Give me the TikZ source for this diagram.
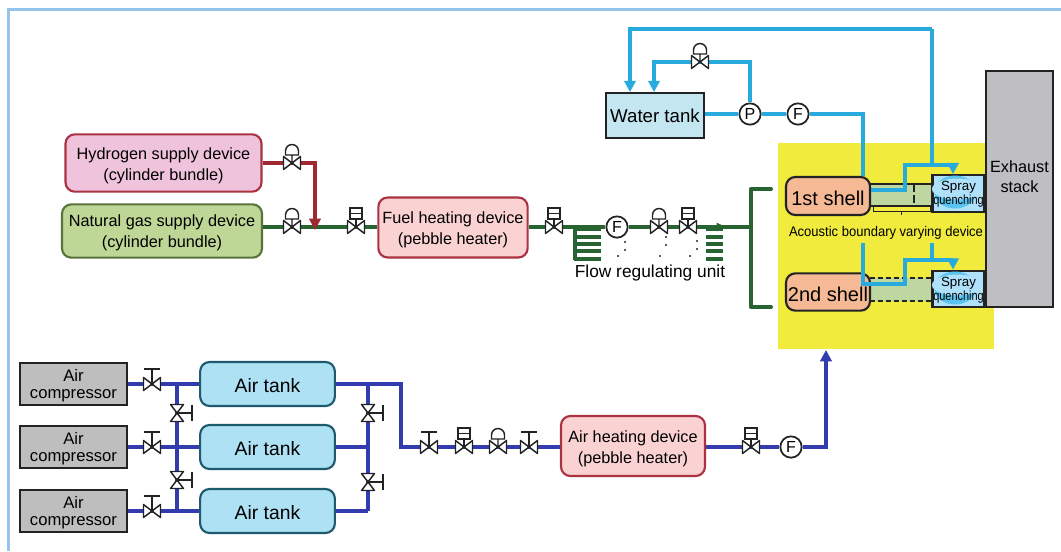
\documentclass[tikz,border=0pt]{standalone}
\usepackage{fontspec}
\setmainfont{Liberation Sans}
\usetikzlibrary{arrows.meta}
\definecolor{frameblue}{RGB}{150,195,235}
\definecolor{waterpipe}{RGB}{40,170,220}
\definecolor{airpipe}{RGB}{50,60,175}
\definecolor{fuelpipe}{RGB}{40,100,50}
\definecolor{hydrogenpipe}{RGB}{160,40,50}
\definecolor{hydrogenfill}{RGB}{240,195,220}
\definecolor{gasfill}{RGB}{190,215,150}
\definecolor{gasedge}{RGB}{90,115,60}
\definecolor{heaterfill}{RGB}{250,210,210}
\definecolor{heateredge}{RGB}{170,50,65}
\definecolor{tankfill}{RGB}{175,225,245}
\definecolor{tankedge}{RGB}{30,90,110}
\definecolor{waterfill}{RGB}{195,230,240}
\definecolor{compressorfill}{RGB}{190,190,190}
\definecolor{stackfill}{RGB}{190,190,195}
\definecolor{zonefill}{RGB}{240,235,60}
\definecolor{shellfill}{RGB}{245,185,150}
\definecolor{ductfill}{RGB}{190,215,160}
\definecolor{sprayfill}{RGB}{175,225,250}
\definecolor{sprayjet}{RGB}{90,195,240}
\definecolor{darkline}{RGB}{35,35,35}
\tikzstyle{devicebox} = [rounded corners=7pt, line width=1.6pt, align=center, inner sep=0pt, font=\fontsize{12.2}{16}\selectfont]
\tikzstyle{hydrogenbox} = [devicebox, draw=heateredge, fill=hydrogenfill]
\tikzstyle{gasbox} = [devicebox, draw=gasedge, fill=gasfill]
\tikzstyle{heaterbox} = [devicebox, draw=heateredge, fill=heaterfill]
\tikzstyle{tankbox} = [devicebox, draw=tankedge, fill=tankfill, font=\fontsize{14.5}{16}\selectfont]
\tikzstyle{shellbox} = [devicebox, draw=darkline, fill=shellfill, font=\fontsize{15}{16}\selectfont]
\tikzstyle{compressorbox} = [draw=darkline, fill=compressorfill, line width=1.6pt, align=center, inner sep=0pt, font=\fontsize{12.5}{13}\selectfont]
\tikzstyle{waterbox} = [draw=darkline, fill=waterfill, line width=1.6pt, align=center, inner sep=0pt, font=\fontsize{14}{16}\selectfont]
\tikzstyle{spraybox} = [draw=darkline, line width=1.6pt, minimum width=39pt, minimum height=27.5pt, inner sep=0pt]
\tikzstyle{meter} = [circle, draw=darkline, fill=white, line width=1.3pt, minimum size=16pt, inner sep=0pt, font=\fontsize{12}{12}\selectfont]
\tikzstyle{water} = [draw=waterpipe, line width=2.6pt]
\tikzstyle{air} = [draw=airpipe, line width=2.4pt]
\tikzstyle{fuel} = [draw=fuelpipe, line width=2.4pt]
\tikzstyle{tip} = [-{Triangle[length=8.5pt,width=8.5pt]}]
\newcommand{\lift}[1]{\rule{0pt}{#1}}
\newcommand{\valvecross}{\draw[darkline, line width=1.1pt, fill=white, line join=round]
      (-8.5,-6.5) -- (8.5,6.5) -- (8.5,-6.5) -- (-8.5,6.5) -- cycle;}
\tikzset{
  handvalve/.pic={
    \draw[darkline, line width=1.1pt] (0,0) -- (0,-15) (-8,-15) -- (8,-15);
    \valvecross
  },
  boxvalve/.pic={
    \draw[darkline, line width=1.1pt, fill=white] (0,0) -- (0,-8) (-6,-8) rectangle (6,-19) (-6,-13.5) -- (6,-13.5);
    \valvecross
  },
  domevalve/.pic={
    \draw[darkline, line width=1.1pt, fill=white] (0,0) -- (0,-8) (-6.5,-8) -- (6.5,-8) -- (6.5,-12) arc[start angle=0, end angle=180, x radius=6.5, y radius=-6.5] -- cycle;
    \valvecross
  },
}
\begin{document}
\begin{tikzpicture}[x=0.75pt, y=-0.75pt]
    \useasboundingbox (0,0) rectangle (1061,551);
    \draw[frameblue, line width=2.2pt] (1061,9.5) -- (8.5,9.5) -- (8.5,551);

    % burner zone and stack
    \fill[zonefill] (778,143) rectangle (994,349);
    \node[draw=darkline, fill=stackfill, line width=1.6pt, minimum width=50.5pt, minimum height=177pt, inner sep=0pt] (stack) at (1019.5,189) {};
    \node[anchor=north, align=center, font=\fontsize{12.2}{15}\selectfont, inner sep=0pt] (stacklabel) at (1019.5,160) {Exhaust\\stack};

    % ducts
    \fill[ductfill] (870,183) rectangle (932,206);
    \fill[ductfill] (870,278) rectangle (932,301);
    \coordinate (ducta) at (870,184);
    \coordinate (ductb) at (932,184);
    \coordinate (ductc) at (870,206);
    \coordinate (ductd) at (932,206);
    \draw[darkline, line width=1.6pt] (ducta) -- (ductb);
    \draw[darkline, line width=1.6pt] (ductc) -- (ductd);
    \coordinate (ducte) at (870,278);
    \coordinate (ductf) at (932,278);
    \coordinate (ductg) at (870,301);
    \coordinate (ducth) at (932,301);
    \draw[darkline, line width=1.6pt, dash pattern=on 4pt off 2pt] (ducte) -- (ductf);
    \draw[darkline, line width=1.6pt, dash pattern=on 4pt off 2pt] (ductg) -- (ducth);
    \coordinate (movea) at (914,184);
    \coordinate (moveb) at (914,206);
    \draw[darkline, line width=2.2pt, dash pattern=on 6pt off 2.5pt] (movea) -- (moveb);
    \draw[darkline, line width=0.4pt] (873,207) -- (873,211) -- (930,211) -- (930,207) (901,211) -- (901,215);

    % shells
    \node[shellbox, minimum width=63pt, minimum height=28.5pt] (shella) at (828,196) {\lift{14pt}1st shell};
    \node[shellbox, minimum width=63pt, minimum height=28pt] (shellb) at (828,292) {\lift{14pt}2nd shell};
    \node[spraybox, fill=sprayfill] (spraya) at (958.5,193.5) {};
    \node[spraybox, fill=sprayfill] (sprayb) at (958.5,289) {};
    \foreach \y in {192,288}{
        \fill[sprayjet] (955,\y) ellipse [x radius=21, y radius=16.5];
        \fill[sprayfill] (957,\y-3) ellipse [x radius=25, y radius=10.5];
    }
    \node[align=center, inner sep=0pt, font=\fontsize{10}{11}\selectfont] (spraylabela) at (958.5,194.5) {Spray\\[-0.5pt]\scalebox{0.82}[1]{quenching}};
    \node[align=center, inner sep=0pt, font=\fontsize{10}{11}\selectfont] (spraylabelb) at (958.5,290) {Spray\\[-0.5pt]\scalebox{0.82}[1]{quenching}};
    \node[inner sep=0pt, font=\fontsize{10.5}{12}\selectfont] (acoustic) at (886,233) {\scalebox{0.93}[1]{Acoustic boundary varying device}};

    % water side
    \node[waterbox, minimum width=73.5pt, minimum height=33.5pt] (watertank) at (655,115.5) {Water tank};
    \node[meter] (pumpw) at (750,114) {P};
    \node[meter] (flowm) at (798,114) {F};
    \coordinate (wa) at (630,29);
    \coordinate (wb) at (932,29);
    \coordinate (wc) at (932,165);
    \coordinate (wd) at (905,165);
    \coordinate (we) at (905,190);
    \coordinate (wf) at (953,165);
    \coordinate (wg) at (863,114);
    \coordinate (wh) at (863,243);
    \coordinate (wi) at (863,284);
    \coordinate (wj) at (905,284);
    \coordinate (wk) at (905,260);
    \coordinate (wl) at (953,260);
    \coordinate (wm) at (932,243);
    \coordinate (wn) at (932,260);
    \coordinate (wo) at (750,62);
    \coordinate (wp) at (654,62);
    \draw[water, tip] (wb) -- (wa) -- (wa |- watertank.north);
    \draw[water, tip] (pumpw) -- (wo) -- (wp) -- (wp |- watertank.north);
    \draw[water] (watertank.east |- pumpw) -- (pumpw);
    \draw[water] (pumpw) -- (flowm);
    \draw[water] (flowm) -- (wg) -- (wg |- shella.north);
    \draw[water] (wb) -- (wc);
    \draw[water] (we -| shella.east) -- (we) -- (wd) -- (wf);
    \draw[water, tip] (wf) -- (wf |- spraya.north);
    \draw[water] (wh) -- (wi) -- (wj) -- (wk) -- (wl);
    \draw[water] (wm) -- (wn);
    \draw[water, tip] (wl) -- (wl |- sprayb.north);
    \pic at (700,62) {domevalve};

    % fuel side
    \node[hydrogenbox, minimum width=147pt, minimum height=43pt] (hydrogen) at (163.5,163) {\lift{13.5pt}Hydrogen supply device\\(cylinder bundle)};
    \node[gasbox, minimum width=150pt, minimum height=40pt] (naturalgas) at (162,231) {\lift{12pt}Natural gas supply device\\(cylinder bundle)};
    \node[heaterbox, minimum width=112pt, minimum height=45pt] (fuelheater) at (453,227.5) {\lift{12pt}Fuel heating device\\(pebble heater)};
    \node[meter] (flowf) at (617,227) {F};
    \coordinate (ha) at (315,163);
    \coordinate (hb) at (315,230);
    \coordinate (fa) at (751,227);
    \coordinate (fb) at (751,189);
    \coordinate (fc) at (771,189);
    \coordinate (fd) at (751,307);
    \coordinate (fe) at (771,307);
    \draw[fuel] (naturalgas.east |- flowf) -- (fuelheater.west |- flowf);
    \draw[fuel] (fuelheater.east |- flowf) -- (flowf);
    \draw[fuel] (flowf) -- (fa);
    \draw[fuelpipe, -{Triangle[length=7pt,width=6pt]}, line width=2.4pt] (flowf) -- (726,227);
    \draw[fuelpipe, line width=3pt, line cap=round, line join=round] (fc) -- (fb) -- (fd) -- (fe);
    \draw[hydrogenpipe, line width=2.4pt, tip] (hydrogen) -- (ha) -- (hb);
    \pic at (292,163) {domevalve};
    \pic at (292,227) {domevalve};
    \pic at (356,227) {boxvalve};
    \pic at (554,227) {boxvalve};
    \pic at (659,227) {domevalve};
    \pic at (688,227) {boxvalve};
    % ladders under the fuel line
    \foreach \y in {229,237,244,251,259}{
        \draw[fuelpipe, line width=2.3pt] (574,\y) -- (601,\y);
        \draw[fuelpipe, line width=2.3pt] (706,\y) -- (723,\y);
    }
    \draw[fuelpipe, line width=2.3pt] (575,227) -- (575,260);
    % dotted leaders
    \foreach \x/\y in {625/242,625/250,618/256,666/237,666/245,660/256,697/241,697/249,690/256}{
        \fill[darkline] (\x,\y) circle (0.9pt);
    }
    \node[inner sep=0pt, font=\fontsize{13}{15}\selectfont] (flowunit) at (650,273) {Flow regulating unit};

    % air side
    \foreach \n/\y in {a/384, b/447, c/511}{
        \node[compressorbox, minimum width=80pt, minimum height=32pt] (comp\n) at (73.5,\y) {\lift{12pt}Air\\compressor};
        \node[tankbox, minimum width=101pt, minimum height=33pt] (tank\n) at (267.5,\y) {\lift{13.5pt}Air tank};
        \draw[air] (comp\n) -- (tank\n);
        \pic at (152,\y) {handvalve};
    }
    \coordinate (la) at (177,384);
    \coordinate (lb) at (177,511);
    \coordinate (ra) at (368,384);
    \coordinate (rb) at (368,511);
    \coordinate (rc) at (401,384);
    \coordinate (rd) at (401,447);
    \coordinate (ua) at (826,447);
    \coordinate (ub) at (826,350);
    \node[heaterbox, minimum width=108pt, minimum height=45pt] (airheater) at (633,446) {\lift{13pt}Air heating device\\(pebble heater)};
    \node[meter] (flowa) at (791,447) {F};
    \draw[air] (la) -- (lb);
    \draw[air] (ra) -- (rb);
    \draw[air] (tanka) -- (rc) -- (rd) -- (airheater.west |- rd);
    \draw[air] (tankb) -- (ra |- tankb);
    \draw[air] (tankc) -- (rb);
    \draw[air] (airheater.east |- ua) -- (flowa);
    \draw[air, tip] (flowa) -- (ua) -- (ub);
    \foreach \x/\y in {177/413,177/480,368/413,368/482}{
        \pic[rotate=-90] at (\x,\y) {handvalve};
    }
    \pic at (429,447) {handvalve};
    \pic at (464,447) {boxvalve};
    \pic at (498,447) {domevalve};
    \pic at (529,447) {handvalve};
    \pic at (751,447) {boxvalve};
\end{tikzpicture}
\end{document}
